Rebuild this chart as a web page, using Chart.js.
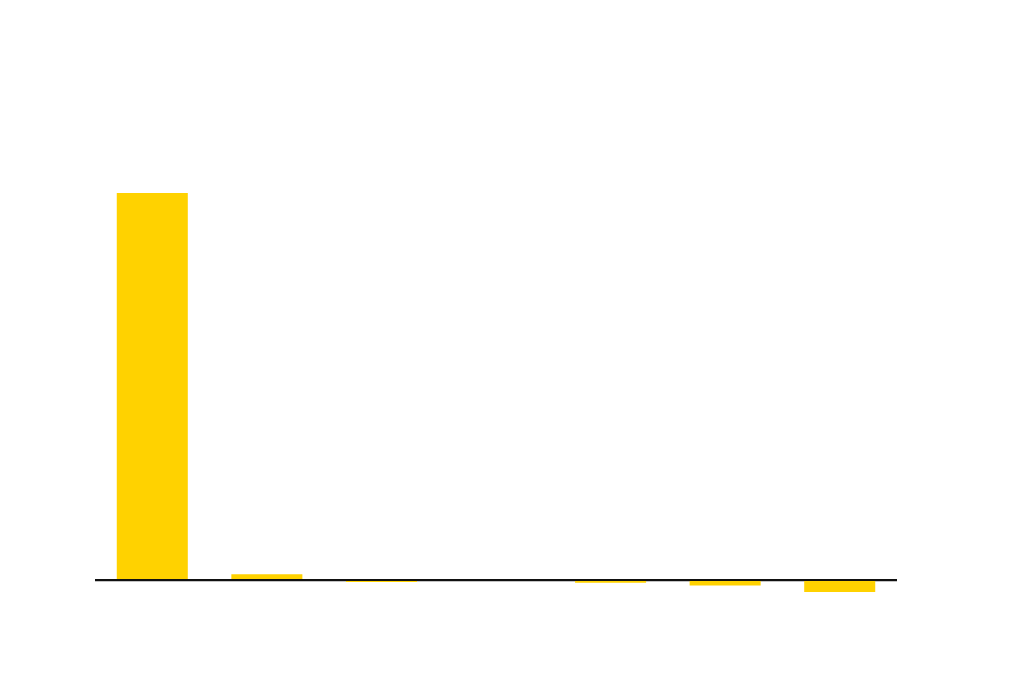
<!DOCTYPE html>
<html>
<head>
<meta charset="utf-8">
<script src="https://cdn.jsdelivr.net/npm/chart.js@4"></script>
<style>
html,body{margin:0;padding:0;background:#fff;}
#wrap{width:1024px;height:698px;}
</style>
</head>
<body>
<div id="wrap"><canvas id="c" width="1024" height="698"></canvas></div>
<script>
const categories = ["A", "B", "C", "D", "E", "F", "G"];
const values = [100, 1.5, -0.5, 0, -0.7, -1.4, -3.1];
const yMin = -10;
const yMax = 120;

new Chart(document.getElementById('c'), {
  type: 'bar',
  data: {
    labels: categories,
    datasets: [{
      data: values,
      backgroundColor: '#FFD200',
      borderWidth: 0,
      barPercentage: 0.62,
      categoryPercentage: 1.0
    }]
  },
  options: {
    responsive: false,
    animation: false,
    layout: { padding: { left: 95, right: 127, top: 115.6, bottom: 79.3 } },
    plugins: { legend: { display: false }, tooltip: { enabled: false } },
    scales: {
      x: { display: false },
      y: {
        min: yMin, max: yMax,
        afterFit: (s) => { s.width = 0; },
        ticks: { display: false, stepSize: 10 },
        border: { display: false },
        grid: {
          drawTicks: false,
          color: (ctx) => ctx.tick && ctx.tick.value === 0 ? '#111' : 'rgba(0,0,0,0)',
          lineWidth: (ctx) => ctx.tick && ctx.tick.value === 0 ? 2.2 : 0
        }
      }
    }
  },
  plugins: [{
    id: 'bg',
    beforeDraw(chart) {
      const c = chart.ctx;
      c.save(); c.fillStyle = '#fff'; c.fillRect(0, 0, chart.width, chart.height); c.restore();
    }
  }]
});
</script>
</body>
</html>
